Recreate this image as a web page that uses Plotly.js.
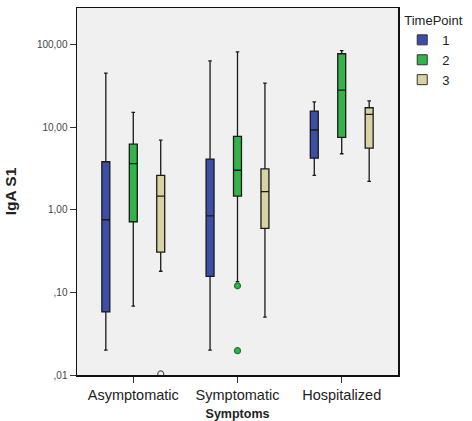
<!DOCTYPE html>
<html>
<head>
<meta charset="utf-8">
<script src="https://cdn.plot.ly/plotly-3.0.1.min.js"></script>
<style>html,body{margin:0;padding:0;background:#fff;}#chart{width:472px;height:421px;}</style>
</head>
<body>
<div id="chart"></div>
<script>
// Categories (Symptoms) and TimePoint series
var categories = ["Asymptomatic", "Symptomatic", "Hospitalized"];
var timePoints = ["1", "2", "3"];

// Box statistics per time point, one value per category
var lower1  = [0.020, 0.020, 2.6];
var q1_1    = [0.058, 0.156, 4.2];
var med1    = [0.755, 0.84, 9.2];
var q3_1    = [3.8, 4.1, 15.6];
var upper1  = [45, 63, 20.2];

var lower2  = [0.068, 0.135, 4.75];
var q1_2    = [0.715, 1.46, 7.5];
var med2    = [3.6, 3.0, 28];
var q3_2    = [6.2, 7.7, 77];
var upper2  = [15, 81, 84];

var lower3  = [0.18, 0.050, 2.2];
var q1_3    = [0.307, 0.594, 5.56];
var med3    = [1.46, 1.65, 14.2];
var q3_3    = [2.6, 3.12, 17.1];
var upper3  = [6.95, 34, 20.7];

// Outliers: [category, timepoint index, value]
var outlierCategory = ["Symptomatic", "Symptomatic", "Asymptomatic"];
var outlierTime     = [1, 1, 2];
var outlierValue    = [0.12, 0.0197, 0.0103];

// Y tick labels (European decimal format)
var yTickVals = [0.01, 0.1, 1, 10, 100];
var yTickText = [",01", ",10", "1,00", "10,00", "100,00"];

var colors = ["#3C4FA6", "#33B44A", "#D7D3A3"];
var outFill = ["#3C4FA6", "#33B44A", "rgba(0,0,0,0)"];
var outLine = ["#23306e", "#1d7a2e", "#555555"];

var boxGap = 0.21, boxGroupGap = 0.71;
var xRange = [-0.54, 2.54];

var stats = [
  [lower1, q1_1, med1, q3_1, upper1],
  [lower2, q1_2, med2, q3_2, upper2],
  [lower3, q1_3, med3, q3_3, upper3]
];

var traces = [];
stats.forEach(function (s, k) {
  traces.push({
    type: "box",
    name: timePoints[k],
    x: categories,
    lowerfence: s[0], q1: s[1], median: s[2], q3: s[3], upperfence: s[4],
    boxpoints: false,
    fillcolor: colors[k],
    line: {color: "#1a1a1a", width: 1.3},
    whiskerwidth: 0.45,
    showlegend: false,
    hoverinfo: "skip"
  });
});

// Outlier markers placed at the grouped box slot (on an overlaid numeric axis)
var slot = (1 - boxGap) / timePoints.length;
timePoints.forEach(function (t, k) {
  var xs = [], ys = [];
  outlierValue.forEach(function (v, i) {
    if (outlierTime[i] === k) {
      xs.push(categories.indexOf(outlierCategory[i]) + (k - (timePoints.length - 1) / 2) * slot);
      ys.push(v);
    }
  });
  if (xs.length) {
    traces.push({
      type: "scatter", mode: "markers", xaxis: "x2", yaxis: "y",
      x: xs, y: ys, showlegend: false, hoverinfo: "skip", cliponaxis: true,
      marker: {symbol: k === 2 ? "circle-open" : "circle", size: 6,
               color: k === 2 ? outLine[k] : outFill[k],
               line: {color: outLine[k], width: 1.2}}
    });
  }
});

// Legend entries (square swatches)
timePoints.forEach(function (t, k) {
  traces.push({
    type: "scatter",
    mode: "markers",
    name: t,
    x: [null], y: [null],
    marker: {symbol: "square", size: 10, color: colors[k], line: {color: "#333", width: 1}},
    showlegend: true
  });
});

var layout = {
  width: 472, height: 421,
  margin: {l: 77, r: 73, t: 8, b: 46},
  paper_bgcolor: "#ffffff",
  plot_bgcolor: "#F0F0F0",
  boxmode: "group",
  boxgap: boxGap,
  boxgroupgap: boxGroupGap,
  font: {family: "Liberation Sans, Arial, sans-serif", color: "#222"},
  xaxis: {
    type: "category",
    range: xRange,
    showline: true, mirror: true, linecolor: "#111", linewidth: 1.5,
    ticks: "outside", ticklen: 6, tickcolor: "#333",
    tickfont: {size: 14.5, color: "#222"},
    showgrid: false, zeroline: false,
    title: {text: "<b>Symptoms</b>", font: {size: 12.5, color: "#222"}, standoff: 8}
  },
  xaxis2: {
    type: "linear", overlaying: "x", range: xRange, visible: false,
    showgrid: false, zeroline: false
  },
  yaxis: {
    type: "log",
    range: [-2, 2.44],
    tickvals: yTickVals, ticktext: yTickText,
    showline: true, mirror: true, linecolor: "#111", linewidth: 1.5,
    ticks: "outside", ticklen: 6, tickcolor: "#333",
    tickfont: {size: 10, color: "#444"},
    showgrid: false, zeroline: false,
    title: {text: "<b>IgA S1</b>", font: {size: 15.5, color: "#222"}, standoff: 16}
  },
  legend: {
    x: 1.01, y: 1.0, xanchor: "left", yanchor: "top",
    bgcolor: "rgba(0,0,0,0)",
    title: {text: "TimePoint", font: {size: 13, color: "#222"}},
    font: {size: 13, color: "#222"},
    tracegroupgap: 0,
    itemwidth: 30
  }
};

Plotly.newPlot("chart", traces, layout, {displayModeBar: false, staticPlot: true});
</script>
</body>
</html>
